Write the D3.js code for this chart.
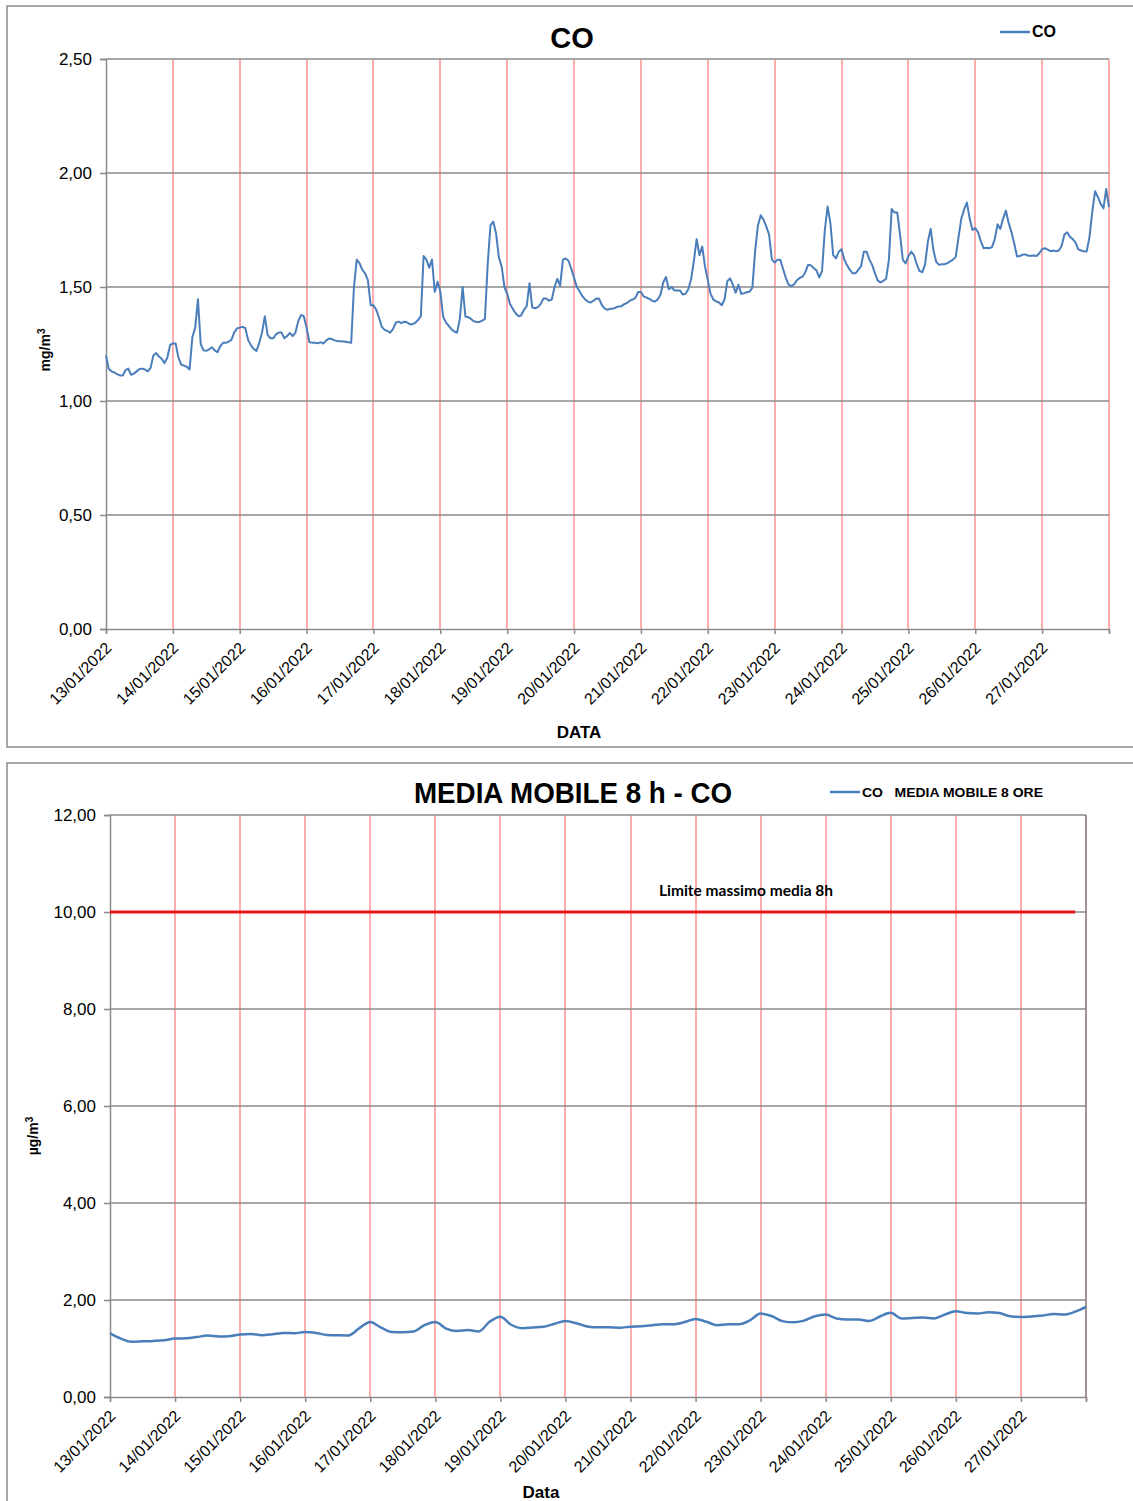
<!DOCTYPE html>
<html>
<head>
<meta charset="utf-8">
<script src="https://cdn.jsdelivr.net/npm/d3@7"></script>
<style>
  body { margin: 0; background: #fff; }
  svg { display: block; font-family: "Liberation Sans", Arial, sans-serif; }
</style>
</head>
<body>
<svg id="chart" width="1133" height="1501"></svg>
<script>
// tick labels (days)
var dayLabels = ["13/01/2022","14/01/2022","15/01/2022","16/01/2022","17/01/2022","18/01/2022","19/01/2022",
                 "20/01/2022","21/01/2022","22/01/2022","23/01/2022","24/01/2022","25/01/2022","26/01/2022","27/01/2022"];
var endLabel = "28/01/2022";

// CO hourly values (mg/m3), one row per day
var co13 = [1.20,1.14,1.13,1.125,1.118,1.112,1.112,1.135,1.142,1.115,1.12,1.13,1.14,1.142,1.138,1.13,1.145,1.20,1.21,1.195,1.185,1.166,1.19,1.245];
var co14 = [1.253,1.252,1.19,1.16,1.155,1.15,1.138,1.28,1.32,1.446,1.25,1.222,1.22,1.226,1.236,1.222,1.214,1.24,1.255,1.255,1.26,1.268,1.30,1.318];
var co15 = [1.322,1.325,1.32,1.268,1.245,1.228,1.22,1.255,1.30,1.372,1.29,1.275,1.275,1.292,1.30,1.30,1.275,1.285,1.298,1.285,1.30,1.35,1.377,1.372];
var co16 = [1.32,1.258,1.256,1.255,1.253,1.258,1.252,1.265,1.274,1.272,1.266,1.263,1.262,1.261,1.26,1.258,1.255,1.50,1.62,1.605,1.575,1.56,1.53,1.42];
var co17 = [1.42,1.40,1.365,1.325,1.312,1.307,1.30,1.315,1.343,1.348,1.342,1.348,1.345,1.337,1.337,1.343,1.355,1.372,1.636,1.62,1.585,1.62,1.478,1.523];
var co18 = [1.48,1.37,1.345,1.33,1.315,1.305,1.30,1.36,1.50,1.37,1.368,1.36,1.35,1.347,1.347,1.352,1.36,1.60,1.77,1.787,1.735,1.63,1.59,1.50];
var co19 = [1.47,1.425,1.405,1.385,1.372,1.375,1.40,1.416,1.516,1.41,1.407,1.412,1.425,1.45,1.45,1.44,1.445,1.50,1.536,1.505,1.62,1.625,1.615,1.58];
var co20 = [1.54,1.50,1.48,1.46,1.445,1.436,1.432,1.44,1.45,1.448,1.42,1.405,1.40,1.405,1.405,1.41,1.415,1.416,1.425,1.43,1.44,1.445,1.452,1.478];
var co21 = [1.478,1.458,1.454,1.448,1.44,1.436,1.445,1.465,1.52,1.544,1.49,1.50,1.485,1.485,1.485,1.467,1.47,1.49,1.534,1.614,1.71,1.64,1.677,1.59];
var co22 = [1.53,1.47,1.445,1.437,1.432,1.42,1.445,1.525,1.538,1.51,1.475,1.51,1.47,1.473,1.477,1.48,1.497,1.66,1.77,1.815,1.795,1.765,1.73,1.62];
var co23 = [1.607,1.62,1.62,1.58,1.54,1.51,1.504,1.512,1.53,1.54,1.545,1.565,1.597,1.595,1.583,1.573,1.542,1.57,1.75,1.853,1.78,1.64,1.626,1.655];
var co24 = [1.666,1.62,1.595,1.575,1.56,1.56,1.575,1.59,1.655,1.655,1.62,1.597,1.56,1.528,1.52,1.527,1.536,1.62,1.842,1.827,1.827,1.73,1.62,1.603];
var co25 = [1.635,1.655,1.64,1.60,1.57,1.565,1.60,1.70,1.755,1.66,1.61,1.597,1.60,1.60,1.605,1.612,1.62,1.632,1.72,1.80,1.84,1.87,1.80,1.75];
var co26 = [1.758,1.74,1.70,1.67,1.672,1.67,1.675,1.71,1.775,1.755,1.80,1.835,1.78,1.74,1.69,1.634,1.636,1.642,1.643,1.637,1.637,1.638,1.636,1.648];
var co27 = [1.666,1.67,1.664,1.657,1.66,1.657,1.66,1.68,1.73,1.74,1.72,1.71,1.695,1.665,1.66,1.657,1.656,1.72,1.83,1.92,1.895,1.865,1.845,1.93];
var co28 = [1.85];

// 8 h moving average, read every 4 hours
var mm8 = [1.313,1.205,1.14,1.148,1.157,1.172,
           1.205,1.21,1.235,1.27,1.25,1.255,
           1.29,1.30,1.275,1.295,1.32,1.315,
           1.34,1.32,1.28,1.272,1.27,1.42,
           1.545,1.43,1.34,1.335,1.35,1.48,
           1.545,1.41,1.36,1.38,1.35,1.55,
           1.655,1.49,1.42,1.435,1.45,1.51,
           1.567,1.52,1.455,1.436,1.436,1.43,
           1.45,1.46,1.48,1.50,1.50,1.545,
           1.61,1.55,1.48,1.50,1.50,1.58,
           1.72,1.67,1.565,1.54,1.575,1.665,
           1.70,1.62,1.60,1.60,1.565,1.66,
           1.735,1.62,1.63,1.64,1.62,1.70,
           1.77,1.73,1.72,1.75,1.73,1.665,
           1.65,1.66,1.68,1.71,1.70,1.76,
           1.86];
var mm8Step = 4;

var limitValue = 10;
var limitHours = [0, 356];

var coTicks = [0, 0.5, 1, 1.5, 2, 2.5];
var mmTicks = [0, 2, 4, 6, 8, 10, 12];

var svg = d3.select("#chart");
var parseDay = d3.timeParse("%d/%m/%Y");
var start = parseDay(dayLabels[0]);
var end = parseDay(endLabel);
var itFormat = d3.formatLocale({decimal: ",", thousands: ".", grouping: [3], currency: ["", "€"]}).format(".2f");

var coAll = [].concat(co13, co14, co15, co16, co17, co18, co19, co20, co21, co22, co23, co24, co25, co26, co27, co28);
var coData = coAll.map(function(v, i) { return {t: d3.timeHour.offset(start, i), v: v}; });
var mmData = mm8.map(function(v, i) { return {t: d3.timeHour.offset(start, i * mm8Step), v: v}; });

var GRAY = "#8a8a8a", RED = "#ff8a8a", BLUE = "#4a7ebb";

function draw_chart(opt) {
	var x = d3.scaleTime().domain([start, end]).range([opt.left, opt.right]);
	var y = d3.scaleLinear().domain([0, opt.ticks[opt.ticks.length - 1]]).range([opt.bottom, opt.top]);
	var g = svg.append("g");

	// frame
	g.append("rect")
		.attr("x", 7).attr("y", opt.frameTop)
		.attr("width", 1140).attr("height", opt.frameH)
		.attr("fill", "none").attr("stroke", GRAY).attr("stroke-width", 1.5);

	// red day lines
	var days = dayLabels.map(parseDay).slice(1).concat([end]);
	g.selectAll(".vday").data(days).enter().append("line")
		.attr("x1", function(d) { return Math.round(x(d)); }).attr("x2", function(d) { return Math.round(x(d)); })
		.attr("y1", opt.top).attr("y2", opt.bottom)
		.attr("stroke", RED).attr("stroke-width", 1.4);

	// gray horizontal grid
	g.selectAll(".hgrid").data(opt.ticks.slice(1)).enter().append("line")
		.attr("x1", opt.left).attr("x2", opt.right)
		.attr("y1", function(d) { return y(d); }).attr("y2", function(d) { return y(d); })
		.attr("stroke", GRAY).attr("stroke-width", 1.5);

	if (opt.rightBorder) {
		g.append("line")
			.attr("x1", opt.right).attr("x2", opt.right)
			.attr("y1", opt.top).attr("y2", opt.bottom)
			.attr("stroke", GRAY).attr("stroke-width", 1.5);
	}

	// axes
	var yAxis = g.append("g")
		.attr("transform", "translate(" + opt.left + ",0)")
		.call(d3.axisLeft(y).tickValues(opt.ticks).tickSize(6).tickFormat(itFormat));
	yAxis.selectAll("text").attr("x", -14).style("font-size", "17px").attr("fill", "#000");

	var xAxis = g.append("g")
		.attr("transform", "translate(0," + opt.bottom + ")")
		.call(d3.axisBottom(x).tickValues(dayLabels.map(parseDay).concat([end])).tickSize(5)
			.tickFormat(function(d) { return +d === +end ? "" : d3.timeFormat("%d/%m/%Y")(d); }));
	xAxis.selectAll("text")
		.attr("x", 0).attr("y", 0).attr("dy", null)
		.attr("transform", "translate(6,20) rotate(-45)")
		.style("text-anchor", "end").style("font-size", "16px").attr("fill", "#000");

	[yAxis, xAxis].forEach(function(a) {
		a.selectAll(".domain").attr("stroke", GRAY).attr("stroke-width", 1.5);
		a.selectAll(".tick line").attr("stroke", GRAY).attr("stroke-width", 1.5);
	});

	// titles
	var title = g.append("text")
		.attr("x", opt.titleX).attr("y", opt.titleY)
		.attr("text-anchor", "middle")
		.style("font-size", "29px").style("font-weight", "bold")
		.text(opt.title);
	if (opt.titleLen) title.attr("textLength", opt.titleLen).attr("lengthAdjust", "spacingAndGlyphs");

	g.append("text")
		.attr("transform", "translate(" + opt.yLabelX + "," + opt.yLabelY + ") rotate(-90)")
		.attr("text-anchor", "middle")
		.style("font-size", "14px").style("font-weight", "bold")
		.html(opt.yLabel + "<tspan dy='-5' style='font-size:10px'>3</tspan>");

	g.append("text")
		.attr("x", opt.xLabelX).attr("y", opt.xLabelY)
		.attr("text-anchor", "middle")
		.style("font-size", "17px").style("font-weight", "bold")
		.text(opt.xLabel);

	// legend
	g.append("line")
		.attr("x1", opt.legX).attr("x2", opt.legX + 30)
		.attr("y1", opt.legY).attr("y2", opt.legY)
		.attr("stroke", BLUE).attr("stroke-width", 2.5);
	var leg = g.append("text")
		.attr("x", opt.legX + 32).attr("y", opt.legY + 5)
		.attr("xml:space", "preserve")
		.style("font-size", opt.legSize).style("font-weight", "bold")
		.text(opt.legText);
	if (opt.legLen) leg.attr("textLength", opt.legLen).attr("lengthAdjust", "spacingAndGlyphs");

	return {g: g, x: x, y: y};
}

// top chart: CO
var coChart = draw_chart({
	left: 106, right: 1109, top: 59, bottom: 629, ticks: coTicks,
	frameTop: 6, frameH: 741,
	title: "CO", titleX: 572, titleY: 48,
	yLabel: "mg/m", yLabelX: 50, yLabelY: 350,
	xLabel: "DATA", xLabelX: 579, xLabelY: 738,
	legX: 1000, legY: 32, legText: "CO", legSize: "16px"
});

coChart.g.append("path")
	.datum(coData)
	.attr("fill", "none").attr("stroke", BLUE).attr("stroke-width", 2)
	.attr("stroke-linejoin", "round")
	.attr("d", d3.line().x(function(d) { return coChart.x(d.t); }).y(function(d) { return coChart.y(d.v); }));

// bottom chart: media mobile 8h
var mmChart = draw_chart({
	left: 110, right: 1086, top: 815, bottom: 1397, ticks: mmTicks,
	frameTop: 763, frameH: 760, rightBorder: true,
	title: "MEDIA MOBILE 8 h - CO", titleX: 573, titleY: 803, titleLen: 318,
	yLabel: "µg/m", yLabelX: 38, yLabelY: 1136,
	xLabel: "Data", xLabelX: 541, xLabelY: 1498,
	legX: 830, legY: 792, legText: "CO   MEDIA MOBILE 8 ORE", legSize: "13px", legLen: 181
});

mmChart.g.append("line")
	.attr("x1", mmChart.x(d3.timeHour.offset(start, limitHours[0])))
	.attr("x2", mmChart.x(d3.timeHour.offset(start, limitHours[1])))
	.attr("y1", mmChart.y(limitValue)).attr("y2", mmChart.y(limitValue))
	.attr("stroke", "#e8141a").attr("stroke-width", 3);

mmChart.g.append("text")
	.attr("x", 746).attr("y", mmChart.y(limitValue) - 16)
	.attr("text-anchor", "middle")
	.style("font-family", "Lato, 'Open Sans', sans-serif")
	.style("font-size", "15.5px").style("font-weight", "bold")
	.text("Limite massimo media 8h");

mmChart.g.append("path")
	.datum(mmData)
	.attr("fill", "none").attr("stroke", BLUE).attr("stroke-width", 2.5)
	.attr("stroke-linejoin", "round")
	.attr("d", d3.line().curve(d3.curveMonotoneX).x(function(d) { return mmChart.x(d.t); }).y(function(d) { return mmChart.y(d.v); }));
</script>
</body>
</html>
